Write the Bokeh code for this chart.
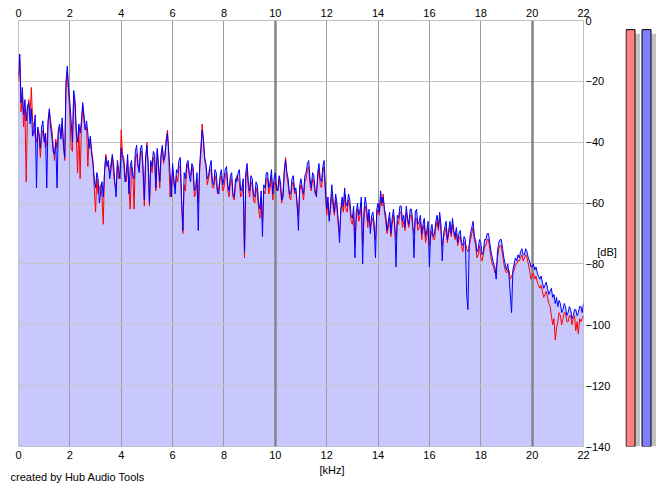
from bokeh.plotting import figure
from bokeh.layouts import row
from bokeh.models import (Range1d, LinearAxis, FixedTicker, Grid, Title,
                          ColumnDataSource)
from bokeh.embed import file_html
from bokeh.resources import INLINE
import numpy as np

# ---------------- data ----------------
bin_step_khz = 0.05
x_ticks_khz = [0, 2, 4, 6, 8, 10, 12, 14, 16, 18, 20, 22]
y_ticks_db = [0, -20, -40, -60, -80, -100, -120, -140]

# right channel (blue), one row per kHz (20 bins each)
blue_db = [
    -18, -11, -27, -22, -31, -26, -33, -28, -27, -34, -29, -38, -36, -31, -55, -35, -37, -42, -35, -33,
    -40, -37, -55, -33, -29, -35, -38, -43, -44, -40, -55, -36, -34, -39, -32, -41, -45, -20, -15, -22,
    -27, -33, -40, -23, -26, -36, -40, -34, -37, -33, -27, -31, -36, -33, -37, -42, -38, -44, -47, -52,
    -55, -50, -52, -60, -56, -53, -58, -50, -45, -48, -46, -52, -49, -44, -47, -53, -58, -46, -49, -52,
    -42, -45, -47, -53, -50, -44, -57, -48, -46, -51, -52, -43, -41, -47, -50, -42, -41, -48, -59, -45,
    -41, -47, -60, -46, -48, -43, -44, -55, -42, -47, -53, -44, -41, -46, -45, -40, -37, -43, -50, -58,
    -47, -52, -57, -49, -50, -46, -45, -58, -69, -50, -52, -47, -46, -51, -53, -47, -48, -56, -55, -50,
    -69, -48, -42, -36, -39, -45, -47, -52, -51, -48, -46, -53, -54, -49, -50, -56, -57, -51, -49, -54,
    -52, -49, -48, -54, -56, -51, -50, -57, -58, -52, -53, -50, -49, -56, -55, -52, -76, -50, -47, -53,
    -56, -51, -52, -57, -58, -53, -54, -60, -62, -56, -71, -54, -55, -50, -50, -55, -53, -49, -57, -52,
    -50, -55, -56, -51, -53, -59, -58, -50, -46, -50, -52, -57, -57, -52, -51, -56, -55, -60, -69, -54,
    -52, -55, -57, -51, -50, -47, -46, -52, -55, -50, -51, -56, -58, -50, -47, -52, -53, -48, -46, -55,
    -62, -58, -66, -60, -54, -59, -63, -57, -60, -66, -73, -62, -58, -61, -55, -60, -61, -57, -59, -64,
    -65, -61, -78, -63, -60, -64, -62, -58, -80, -63, -58, -61, -66, -62, -70, -64, -63, -67, -78, -62,
    -60, -63, -56, -60, -58, -62, -64, -69, -66, -63, -70, -65, -62, -67, -81, -64, -65, -61, -61, -66,
    -64, -68, -61, -65, -67, -62, -62, -66, -78, -63, -62, -67, -66, -64, -70, -67, -65, -71, -69, -66,
    -81, -69, -67, -71, -70, -66, -64, -68, -63, -67, -79, -70, -68, -66, -72, -69, -66, -70, -65, -69,
    -71, -68, -73, -70, -69, -73, -74, -71, -72, -90, -95, -74, -70, -68, -66, -71, -72, -76, -75, -72,
    -73, -77, -76, -72, -72, -70, -70, -73, -76, -78, -80, -81, -85, -76, -73, -72, -72, -75, -78, -80,
    -82, -80, -84, -90, -96, -82, -80, -78, -79, -77, -78, -76, -75, -77, -77, -75, -76, -78, -79, -81,
    -81, -80, -82, -81, -83, -84, -85, -84, -86, -88, -87, -86, -88, -90, -89, -88, -91, -90, -93, -91,
    -94, -92, -93, -96, -95, -93, -94, -97, -96, -94, -95, -98, -97, -95, -95, -97, -96, -94, -94, -96,
    -93,
]

# left channel (red)
red_db = [
    -20, -13, -30, -25, -35, -29, -53, -30, -26, -31, -22, -33, -35, -38, -40, -36, -38, -45, -39, -36,
    -38, -42, -40, -34, -30, -33, -36, -41, -46, -39, -42, -37, -35, -38, -34, -40, -46, -22, -17, -24,
    -30, -42, -43, -25, -28, -38, -50, -36, -52, -35, -28, -33, -36, -35, -48, -39, -40, -43, -46, -55,
    -63, -52, -57, -55, -54, -58, -67, -49, -44, -47, -48, -50, -47, -45, -50, -54, -55, -48, -52, -50,
    -36, -44, -45, -51, -53, -46, -55, -62, -48, -50, -62, -45, -44, -48, -49, -43, -43, -50, -61, -46,
    -40, -48, -61, -47, -50, -45, -46, -56, -43, -48, -55, -45, -42, -47, -44, -39, -36, -44, -58, -55,
    -49, -54, -55, -51, -53, -48, -48, -60, -70, -54, -56, -49, -47, -50, -51, -48, -50, -58, -57, -52,
    -60, -50, -44, -34, -40, -46, -48, -54, -52, -49, -49, -55, -55, -51, -53, -57, -55, -52, -51, -56,
    -55, -51, -50, -56, -58, -53, -52, -58, -59, -54, -51, -52, -53, -58, -57, -54, -78, -52, -49, -55,
    -58, -53, -54, -59, -60, -55, -57, -62, -65, -58, -66, -56, -57, -52, -52, -57, -55, -51, -59, -54,
    -53, -56, -55, -52, -55, -60, -56, -49, -45, -51, -54, -58, -59, -54, -53, -57, -56, -61, -64, -56,
    -54, -56, -59, -53, -52, -49, -48, -54, -56, -52, -53, -57, -57, -52, -49, -54, -55, -50, -48, -57,
    -64, -60, -65, -62, -57, -61, -64, -59, -62, -67, -70, -63, -60, -63, -57, -62, -63, -59, -61, -66,
    -67, -63, -74, -65, -62, -66, -64, -60, -74, -65, -61, -63, -68, -64, -68, -66, -65, -69, -72, -64,
    -62, -64, -58, -61, -57, -63, -66, -70, -68, -65, -71, -67, -64, -68, -72, -66, -67, -63, -63, -68,
    -66, -69, -63, -66, -68, -64, -64, -68, -70, -65, -65, -69, -68, -66, -72, -69, -67, -73, -71, -68,
    -74, -71, -69, -72, -72, -68, -66, -69, -65, -69, -74, -71, -70, -68, -73, -70, -68, -71, -67, -70,
    -72, -70, -74, -72, -71, -74, -76, -73, -73, -75, -76, -74, -72, -70, -68, -72, -74, -78, -77, -74,
    -78, -79, -77, -74, -74, -72, -72, -75, -78, -80, -81, -83, -82, -78, -75, -74, -74, -77, -80, -82,
    -83, -82, -82, -85, -84, -83, -82, -80, -80, -79, -79, -78, -77, -79, -78, -77, -78, -80, -82, -85,
    -84, -83, -85, -84, -86, -87, -88, -87, -89, -91, -90, -89, -91, -93, -94, -97, -100, -98, -105, -101,
    -99, -96, -97, -100, -98, -96, -96, -99, -99, -97, -97, -100, -98, -97, -102, -99, -103, -98, -99, -98,
    -97,
]

# level meters (left = red, right = blue), dB
meter_db = [-3, -3]
meter_colors = ["#FF8080", "#8080FF"]

freq_khz = np.arange(len(blue_db)) * bin_step_khz

FONT = "Liberation Sans"
FS = "11px"

# ---------------- main spectrum figure ----------------
W, H = 665, 487
FRAME_L, FRAME_W, FRAME_T, FRAME_H = 18, 565, 20, 426
FRAME_B = FRAME_T + FRAME_H
RIGHT_BORDER = 42
W1 = FRAME_L + FRAME_W + RIGHT_BORDER
p = figure(width=W1, height=H, output_backend="svg", toolbar_location=None,
           x_range=Range1d(0, 22), y_range=Range1d(-140, 0),
           x_axis_location="above", y_axis_location="right",
           min_border_left=FRAME_L, min_border_right=RIGHT_BORDER,
           min_border_top=FRAME_T, min_border_bottom=H - FRAME_B)
p.background_fill_color = "white"
p.border_fill_color = "white"
p.outline_line_color = "#C0C0C0"

src = ColumnDataSource(dict(f=freq_khz, b=blue_db, r=red_db,
                            top=np.maximum(blue_db, red_db),
                            bottom=np.full(len(blue_db), -140.0)))
p.varea(x="f", y1="bottom", y2="top", source=src, fill_color="#C8C8FF",
        level="image")

# grids
p.xgrid.ticker = FixedTicker(ticks=[2, 4, 6, 8, 12, 14, 16, 18, 22])
p.xgrid.grid_line_color = "#9C9C9C"
p.xgrid.grid_line_width = 1
p.ygrid.ticker = FixedTicker(ticks=[-20, -40, -60, -80, -100, -120])
p.ygrid.grid_line_color = "#C4C4C4"
p.ygrid.grid_line_width = 1
major = Grid(dimension=0, ticker=FixedTicker(ticks=[0, 10, 20]),
             grid_line_color="#848484", grid_line_width=2.5)
p.add_layout(major)

p.line(x="f", y="r", source=src, line_color="#FF0000", line_width=1)
p.line(x="f", y="b", source=src, line_color="#0000FF", line_width=1)


def style_axis(ax, standoff):
    ax.axis_line_color = None
    ax.major_tick_line_color = None
    ax.minor_tick_line_color = None
    ax.major_tick_in = 0
    ax.major_tick_out = 0
    ax.major_label_standoff = standoff
    ax.major_label_text_font = FONT
    ax.major_label_text_font_size = FS
    ax.major_label_text_color = "black"


top_ax = p.xaxis[0]
top_ax.ticker = FixedTicker(ticks=x_ticks_khz)
style_axis(top_ax, 4)

bottom_ax = LinearAxis(ticker=FixedTicker(ticks=x_ticks_khz))
style_axis(bottom_ax, 4)
p.add_layout(bottom_ax, "below")

right_ax = p.yaxis[0]
right_ax.ticker = FixedTicker(ticks=y_ticks_db)
style_axis(right_ax, 2)
right_ax.axis_label = "\n\n[dB]"
right_ax.axis_label_orientation = "horizontal"
right_ax.axis_label_standoff = -16
right_ax.axis_label_text_font = FONT
right_ax.axis_label_text_font_size = FS
right_ax.axis_label_text_font_style = "normal"
right_ax.axis_label_text_color = "black"
right_ax.axis_label_text_line_height = 1.5

title_props = Title.properties()


def make_title(text, offset, standoff):
    kw = dict(text=text, align="left", offset=offset, text_font=FONT,
              text_font_size=FS, text_font_style="normal",
              text_color="black")
    if "standoff" in title_props:
        kw["standoff"] = standoff
    return Title(**kw)


p.add_layout(make_title("[kHz]", 319 - FRAME_L, 0), "below")
p.add_layout(make_title("created by Hub Audio Tools", 10 - FRAME_L, -15),
             "below")

# ---------------- level meter figure ----------------
W2 = W - W1
px_per_db = FRAME_H / 140.0
m = figure(width=W2, height=H, output_backend="svg", toolbar_location=None,
           x_axis_type=None, y_axis_type=None,
           x_range=Range1d(W1, W), y_range=Range1d(-140, 0),
           min_border_left=0, min_border_right=0,
           min_border_top=FRAME_T, min_border_bottom=H - FRAME_B)
m.grid.visible = False
m.outline_line_color = None
m.background_fill_color = "white"
m.border_fill_color = "white"

# meter columns, in page pixels along x
bar_x = [630.0, 646.0]
shadow_x = [bx + 4.5 for bx in bar_x]
shadow_dy = 4 / px_per_db
m.vbar(x=shadow_x, width=10, top=[v - shadow_dy for v in meter_db],
       bottom=-140 - shadow_dy, fill_color="#C0C0C0", line_color=None)
m.vbar(x=bar_x, width=9, top=meter_db, bottom=-140,
       fill_color=meter_colors, line_color="#000000", line_width=1)

layout = row(p, m)
open("out.html", "w").write(file_html(layout, INLINE))
